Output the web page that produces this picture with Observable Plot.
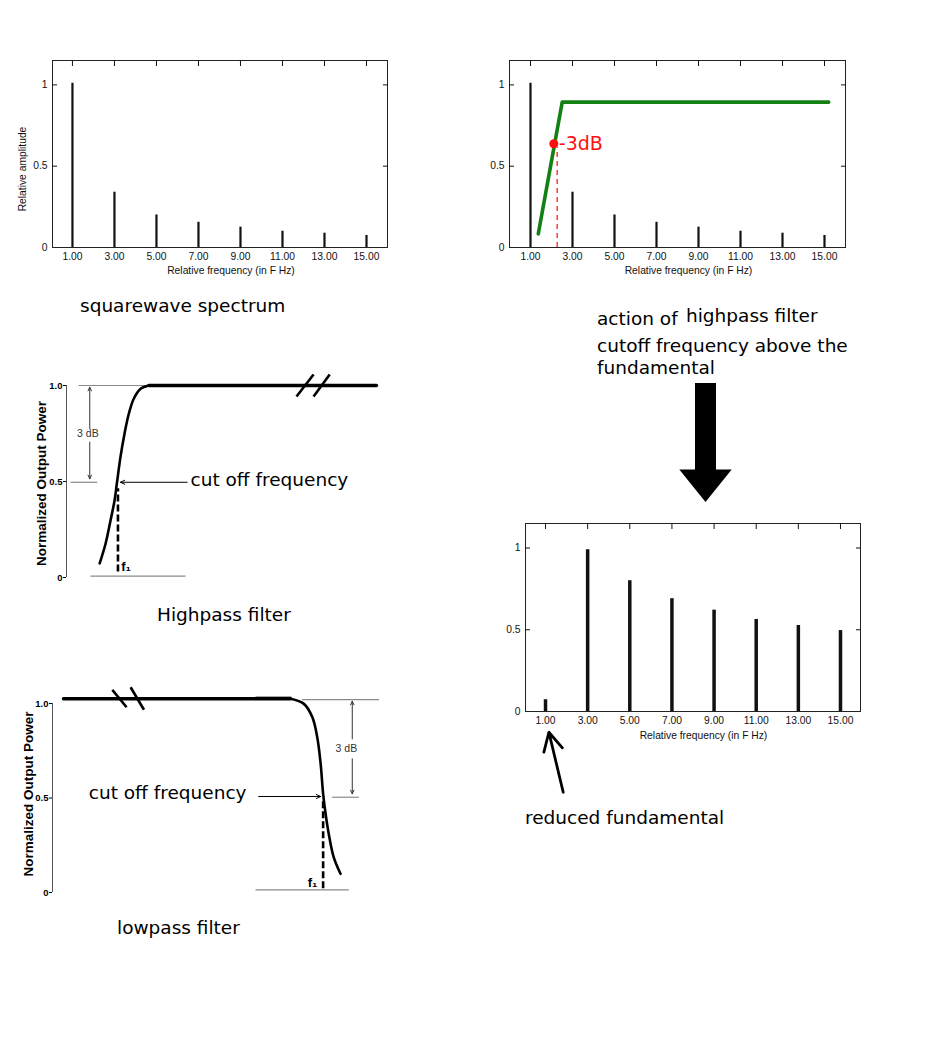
<!DOCTYPE html>
<html><head><meta charset="utf-8">
<script src="https://cdn.jsdelivr.net/npm/d3@7"></script>
<script src="https://cdn.jsdelivr.net/npm/@observablehq/plot@0.6"></script>
<style>
body{margin:0;background:#fff;}
#page{position:relative;width:948px;height:1056px;overflow:hidden;background:#fff;}
.box{position:absolute;}
.t{position:absolute;font-family:"DejaVu Sans",sans-serif;font-size:18.5px;line-height:1;white-space:nowrap;color:#000;}
</style></head><body><div id="page"></div>
<script>
// ---------- data ----------
const harmonics = [1, 3, 5, 7, 9, 11, 13, 15];
const squareAmp = [1.01, 0.34, 0.20, 0.155, 0.125, 0.10, 0.088, 0.074];
const filteredAmp = [0.072, 0.99, 0.80, 0.69, 0.62, 0.563, 0.526, 0.495];
const ampTicks = [0, 0.5, 1];
const powerTicks = [0, 0.5, 1];
const freqLabel = "Relative frequency (in F Hz)";
const ampLabel = "Relative amplitude";
const powerLabel = "Normalized Output Power";

// panel 2: highpass response drawn over spectrum
const respFreq = [1.37, 2.51, 15.2];
const respAmp = [0.084, 0.894, 0.894];
const minus3dB = [{f: 2.11, a: 0.638}];
const cutoffDash = [{f: 2.27, a: 0.617}];

// panel 5: pointer to reduced fundamental
const pointer = [{f1: 1.84, a1: -0.494, f2: 1.16, a2: -0.127}];

// highpass diagram
const hpCurveF = [1.07, 1.26, 1.42, 1.55, 1.63, 1.74, 1.87, 2.01, 2.17, 2.39, 2.66];
const hpCurveP = [0.074, 0.176, 0.297, 0.401, 0.496, 0.627, 0.748, 0.853, 0.931, 0.983, 1.0];
const hpFlatF = [2.66, 10];
const hpFlatP = [1, 1];
const hpBreaks = [{x1: 7.42, y1: 0.943, x2: 7.97, y2: 1.057}, {x1: 7.97, y1: 0.943, x2: 8.49, y2: 1.057}];
const hpGuides = [{x1: 0.39, x2: 3.84, y: 1}, {x1: 0.13, x2: 0.99, y: 0.496}, {x1: 0.77, x2: 3.84, y: 0.007}];
const hp3dB = [{x: 0.75, y1: 0.775, y2: 0.991}, {x: 0.75, y1: 0.705, y2: 0.514}];
const hp3dBLabel = [{x: 0.69, y: 0.748, t: "3 dB"}];
const hpCutArrow = [{x1: 3.89, x2: 1.74, y: 0.496}];
const hpCutLabel = [{x: 4.0, y: 0.508, t: "cut off frequency"}];
const hpDash = [{x: 1.66, y1: 0.028, y2: 0.462}];
const hpF1 = [{x: 1.92, y: 0.057, t: "f\u2081"}];

// lowpass diagram
const lpFlatF = [0.355, 7.68];
const lpFlatP = [1.025, 1.025];
const lpCurveF = [7.68, 8.11, 8.38, 8.54, 8.65, 8.73, 8.81, 8.91, 9.07, 9.29];
const lpCurveP = [1.025, 0.998, 0.928, 0.822, 0.681, 0.522, 0.416, 0.311, 0.187, 0.099];
const lpBreaks = [{x1: 1.93, y1: 1.072, x2: 2.39, y2: 0.980}, {x1: 2.52, y1: 1.086, x2: 2.95, y2: 0.967}];
const lpGuides = [{x1: 6.55, x2: 7.7, y: 1.035}, {x1: 8.05, x2: 10.53, y: 1.02}, {x1: 9.02, x2: 9.88, y: 0.504}, {x1: 6.55, x2: 9.56, y: 0.014}];
const lp3dB = [{x: 9.67, y1: 0.813, y2: 1.012}, {x: 9.67, y1: 0.707, y2: 0.522}];
const lp3dBLabel = [{x: 9.48, y: 0.760, t: "3 dB"}];
const lpCutArrow = [{x1: 6.65, x2: 8.65, y: 0.508}];
const lpCutLabel = [{x: 1.17, y: 0.524, t: "cut off frequency"}];
const lpDash = [{x: 8.73, y1: 0.02, y2: 0.487}];
const lpF1 = [{x: 8.39, y: 0.053, t: "f\u2081"}];

// big down arrow outline (half-widths and depths)
const bigArrow = [
  {d: 0, w1: -10.5, w2: 10.5},
  {d: 86.6, w1: -10.5, w2: 10.5},
  {d: 86.6, w1: -26.2, w2: 26.2},
  {d: 119, w1: 0, w2: 0}
];

// ---------- helpers ----------
const page = document.getElementById("page");
function put(node, left, top) {
  const div = document.createElement("div");
  div.className = "box";
  div.style.left = left + "px";
  div.style.top = top + "px";
  div.appendChild(node);
  page.appendChild(div);
}
function label(text, left, top) {
  const d = document.createElement("div");
  d.className = "t";
  d.style.left = left + "px";
  d.style.top = top + "px";
  d.textContent = text;
  page.appendChild(d);
}
const fmt2 = d3.format(".2f");
const blank = () => "";
const sans = "'Liberation Sans', Arial, Helvetica, sans-serif";
const dejavu = "'DejaVu Sans', sans-serif";
const TICK = 5;

function spectrumPlot({amp, xDomain, width, height, mt, mr, mb, ml, barWidth, xLabelDx, xLabelDy, showYLabel, extra = []}) {
  return Plot.plot({
    width, height, marginTop: mt, marginRight: mr, marginBottom: mb, marginLeft: ml,
    x: {domain: xDomain, axis: null},
    y: {domain: [0, 1.15], axis: null},
    style: {fontFamily: sans, fontSize: "10.3px", color: "#111", background: "transparent", overflow: "visible"},
    marks: [
      Plot.ruleX(harmonics, {x: d => d, y1: 0, y2: (d, i) => amp[i], strokeWidth: barWidth, stroke: "#111"}),
      ...extra,
      Plot.frame({stroke: "#222"}),
      Plot.axisX(harmonics, {anchor: "bottom", tickSize: 0, tickPadding: 5, tickFormat: fmt2, label: null}),
      Plot.axisX(harmonics, {anchor: "top", tickSize: TICK, dy: TICK, tickFormat: blank, label: null}),
      Plot.axisY(ampTicks, {anchor: "left", tickSize: 0, tickPadding: 5, tickFormat: d => String(d), label: null}),
      Plot.axisY([0.5, 1], {anchor: "left", tickSize: TICK, dx: TICK, tickFormat: blank, label: null}),
      Plot.axisY([0.5, 1], {anchor: "right", tickSize: TICK, dx: -TICK, tickFormat: blank, label: null}),
      Plot.text([freqLabel], {frameAnchor: "bottom", dx: xLabelDx, dy: xLabelDy, text: d => d, textAnchor: "middle"}),
      showYLabel ? Plot.text([ampLabel], {frameAnchor: "left", rotate: -90, dx: -30, dy: 15, text: d => d, textAnchor: "middle"}) : null
    ]
  });
}

// ---------- panel 1: squarewave spectrum ----------
put(spectrumPlot({
  amp: squareAmp, xDomain: [0.05, 16], width: 400, height: 240,
  mt: 10, mr: 13, mb: 43, ml: 52, barWidth: 2.2, xLabelDx: 11, xLabelDy: 26, showYLabel: true
}), 0, 50);

// ---------- panel 2: action of highpass ----------
const resp = respFreq.map((f, i) => ({f, a: respAmp[i]}));
put(spectrumPlot({
  amp: squareAmp, xDomain: [0, 16], width: 400, height: 240,
  mt: 10, mr: 15, mb: 43, ml: 49, barWidth: 2.2, xLabelDx: 11, xLabelDy: 26, showYLabel: false,
  extra: [
    Plot.line(resp, {x: "f", y: "a", stroke: "#138013", strokeWidth: 3.6}),
    Plot.ruleX(cutoffDash, {x: "f", y1: 0, y2: "a", stroke: "#ff1a1a", strokeWidth: 1.3, strokeDasharray: "5,4"}),
    Plot.dot(minus3dB, {x: "f", y: "a", r: 4.5, fill: "#ff1010"}),
    Plot.text(minus3dB, {x: "f", y: "a", text: () => "-3dB", dx: 5, textAnchor: "start", fill: "#ff1010", fontSize: 19, fontFamily: dejavu})
  ]
}), 460, 50);

// ---------- panel 5: filtered spectrum ----------
put(spectrumPlot({
  amp: filteredAmp, xDomain: [0.05, 15.95], width: 400, height: 300,
  mt: 13, mr: 20, mb: 99, ml: 45, barWidth: 3.5, xLabelDx: 10.5, xLabelDy: 27, showYLabel: false,
  extra: [
    Plot.arrow(pointer, {x1: "f1", y1: "a1", x2: "f2", y2: "a2", stroke: "#000", strokeWidth: 2.8, headLength: 15, headAngle: 55})
  ]
}), 480, 510);

// ---------- filter diagrams ----------
const powerFmt = d => d === 0 ? "0" : d.toFixed(1);
function filterPlot({width, height, mt, mr, mb, ml, xDomain, flat, curve, breaks, guides, db, dbLabel, cutArrow, cutLabel, dash, f1, yLabelDx, yLabelDy}) {
  return Plot.plot({
    width, height, marginTop: mt, marginRight: mr, marginBottom: mb, marginLeft: ml,
    x: {domain: xDomain, axis: null},
    y: {domain: [0, 1], axis: null},
    style: {fontFamily: sans, fontSize: "10px", color: "#000", background: "transparent", overflow: "visible"},
    marks: [
      Plot.link(guides, {x1: "x1", x2: "x2", y1: "y", y2: "y", stroke: "#8a8a8a", strokeWidth: 1.2}),
      Plot.ruleX([0], {y1: 0, y2: 1, stroke: "#555", strokeWidth: 1}),
      Plot.axisY(powerTicks, {anchor: "left", tickSize: 3, tickPadding: 1, tickFormat: powerFmt, fontWeight: "bold", fontSize: 9.5, label: null}),
      Plot.line(flat, {x: "f", y: "p", strokeWidth: 3.4, stroke: "#000"}),
      Plot.line(curve, {x: "f", y: "p", strokeWidth: 2.6, stroke: "#000", curve: "catmull-rom"}),
      Plot.link(breaks, {x1: "x1", y1: "y1", x2: "x2", y2: "y2", stroke: "#000", strokeWidth: 2.6}),
      Plot.arrow(db, {x1: "x", x2: "x", y1: "y1", y2: "y2", stroke: "#333", strokeWidth: 1, headLength: 6, headAngle: 50}),
      Plot.text(dbLabel, {x: "x", y: "y", text: "t", fontSize: 10.5, fill: "#333"}),
      Plot.arrow(cutArrow, {x1: "x1", x2: "x2", y1: "y", y2: "y", stroke: "#000", strokeWidth: 1, headLength: 7, headAngle: 50}),
      Plot.text(cutLabel, {x: "x", y: "y", text: "t", textAnchor: "start", fontSize: 18.5, fontFamily: dejavu}),
      Plot.ruleX(dash, {x: "x", y1: "y1", y2: "y2", stroke: "#000", strokeWidth: 2.6, strokeDasharray: "7,3"}),
      Plot.text(f1, {x: "x", y: "y", text: "t", fontSize: 13, fontWeight: "bold", fontFamily: sans}),
      Plot.text([powerLabel], {frameAnchor: "left", rotate: -90, dx: yLabelDx, dy: yLabelDy, text: d => d, textAnchor: "middle", fontWeight: "bold", fontSize: 13.5})
    ]
  });
}
put(filterPlot({
  width: 390, height: 220, mt: 15, mr: 14, mb: 13, ml: 66, xDomain: [0, 10],
  flat: hpFlatF.map((f, i) => ({f, p: hpFlatP[i]})),
  curve: hpCurveF.map((f, i) => ({f, p: hpCurveP[i]})),
  breaks: hpBreaks, guides: hpGuides, db: hp3dB, dbLabel: hp3dBLabel,
  cutArrow: hpCutArrow, cutLabel: hpCutLabel, dash: hpDash, f1: hpF1,
  yLabelDx: -25, yLabelDy: 2
}), 0, 370);

put(filterPlot({
  width: 400, height: 230, mt: 23, mr: 7, mb: 18, ml: 52, xDomain: [0, 11],
  flat: lpFlatF.map((f, i) => ({f, p: lpFlatP[i]})),
  curve: lpCurveF.map((f, i) => ({f, p: lpCurveP[i]})),
  breaks: lpBreaks, guides: lpGuides, db: lp3dB, dbLabel: lp3dBLabel,
  cutArrow: lpCutArrow, cutLabel: lpCutLabel, dash: lpDash, f1: lpF1,
  yLabelDx: -24, yLabelDy: -4
}), 0, 680);

// ---------- big arrow ----------
put(Plot.plot({
  width: 71, height: 120, margin: 0,
  x: {domain: [-35.5, 35.5], axis: null},
  y: {domain: [0, 120], reverse: true, axis: null},
  style: {background: "transparent"},
  marks: [Plot.areaX(bigArrow, {y: "d", x1: "w1", x2: "w2", fill: "#000"})]
}), 670, 383);

// ---------- captions ----------
label("squarewave spectrum", 80, 297);
label("action of", 597, 310);
label("highpass filter", 686, 307);
label("cutoff frequency above the", 597, 337);
label("fundamental", 597, 359);
label("Highpass filter", 157, 606);
label("lowpass filter", 117, 919);
label("reduced fundamental", 525, 809);
</script></body></html>
